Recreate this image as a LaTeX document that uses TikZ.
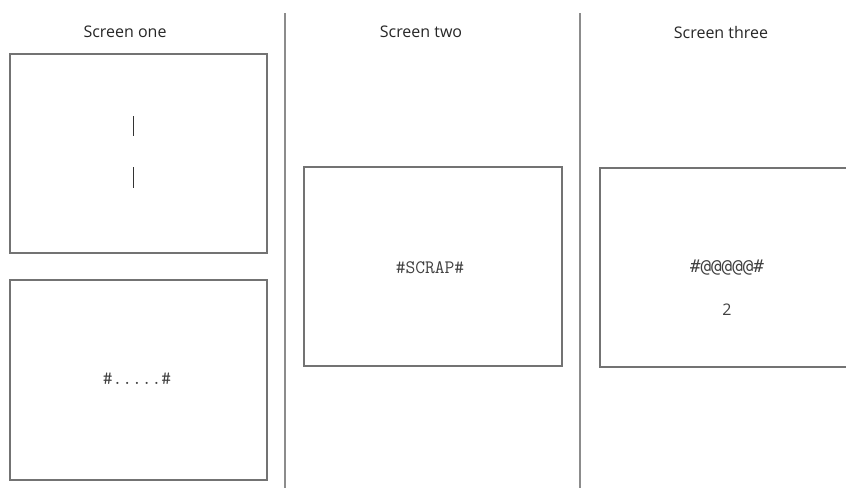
\documentclass[tikz,border=0pt]{standalone}
\usepackage{fontspec}
\setmainfont{Open Sans}
\newfontfamily\monoB{DejaVu Sans Mono}
\begin{document}
\begin{tikzpicture}[x=1pt,y=-1pt,
  screen/.style={draw=black!55,line width=1.1pt},
  divider/.style={draw=black!45,line width=1.4pt},
  title/.style={font=\fontsize{16}{18}\selectfont,text=black!85,inner sep=0pt},
  monotext/.style={font=\ttfamily\fontsize{19}{21}\selectfont,text=black!75,inner sep=0pt},
  monotextb/.style={font=\monoB\fontsize{17.5}{20}\selectfont,text=black!75,inner sep=0pt},
  bar/.style={draw=black!80,line width=1pt}]
\useasboundingbox (0,0) rectangle (846,488);
\clip (0,0) rectangle (846,488);
% titles
\node[title] (t1) at (125,32) {Screen one};
\node[title] (t2) at (421,32) {Screen two};
\node[title] (t3) at (721,32) {Screen three};
% dividers
\coordinate (d1a) at (285,13); \coordinate (d1b) at (285,488);
\coordinate (d2a) at (580,13); \coordinate (d2b) at (580,488);
\draw[divider] (d1a) -- (d1b);
\draw[divider] (d2a) -- (d2b);
% screens
\draw[screen] (10,54) rectangle (267,253);
\draw[screen] (10,280) rectangle (267,480);
\draw[screen] (304,167) rectangle (562,366);
\draw[screen] (600,168) rectangle (860,367);
% contents
\coordinate (b1a) at (133,116); \coordinate (b1b) at (133,136);
\coordinate (b2a) at (133,167); \coordinate (b2b) at (133,188);
\draw[bar] (b1a) -- (b1b);
\draw[bar] (b2a) -- (b2b);
\node[monotext] (dots) at (137,379) {\#.....\#};
\node[monotext] (scrap) at (430,268) {\#SCRAP\#};
\node[monotextb] (at) at (727,268) {\#@@@@@\#};
\node[title,text=black!75] (two) at (727,310) {2};
\end{tikzpicture}
\end{document}
